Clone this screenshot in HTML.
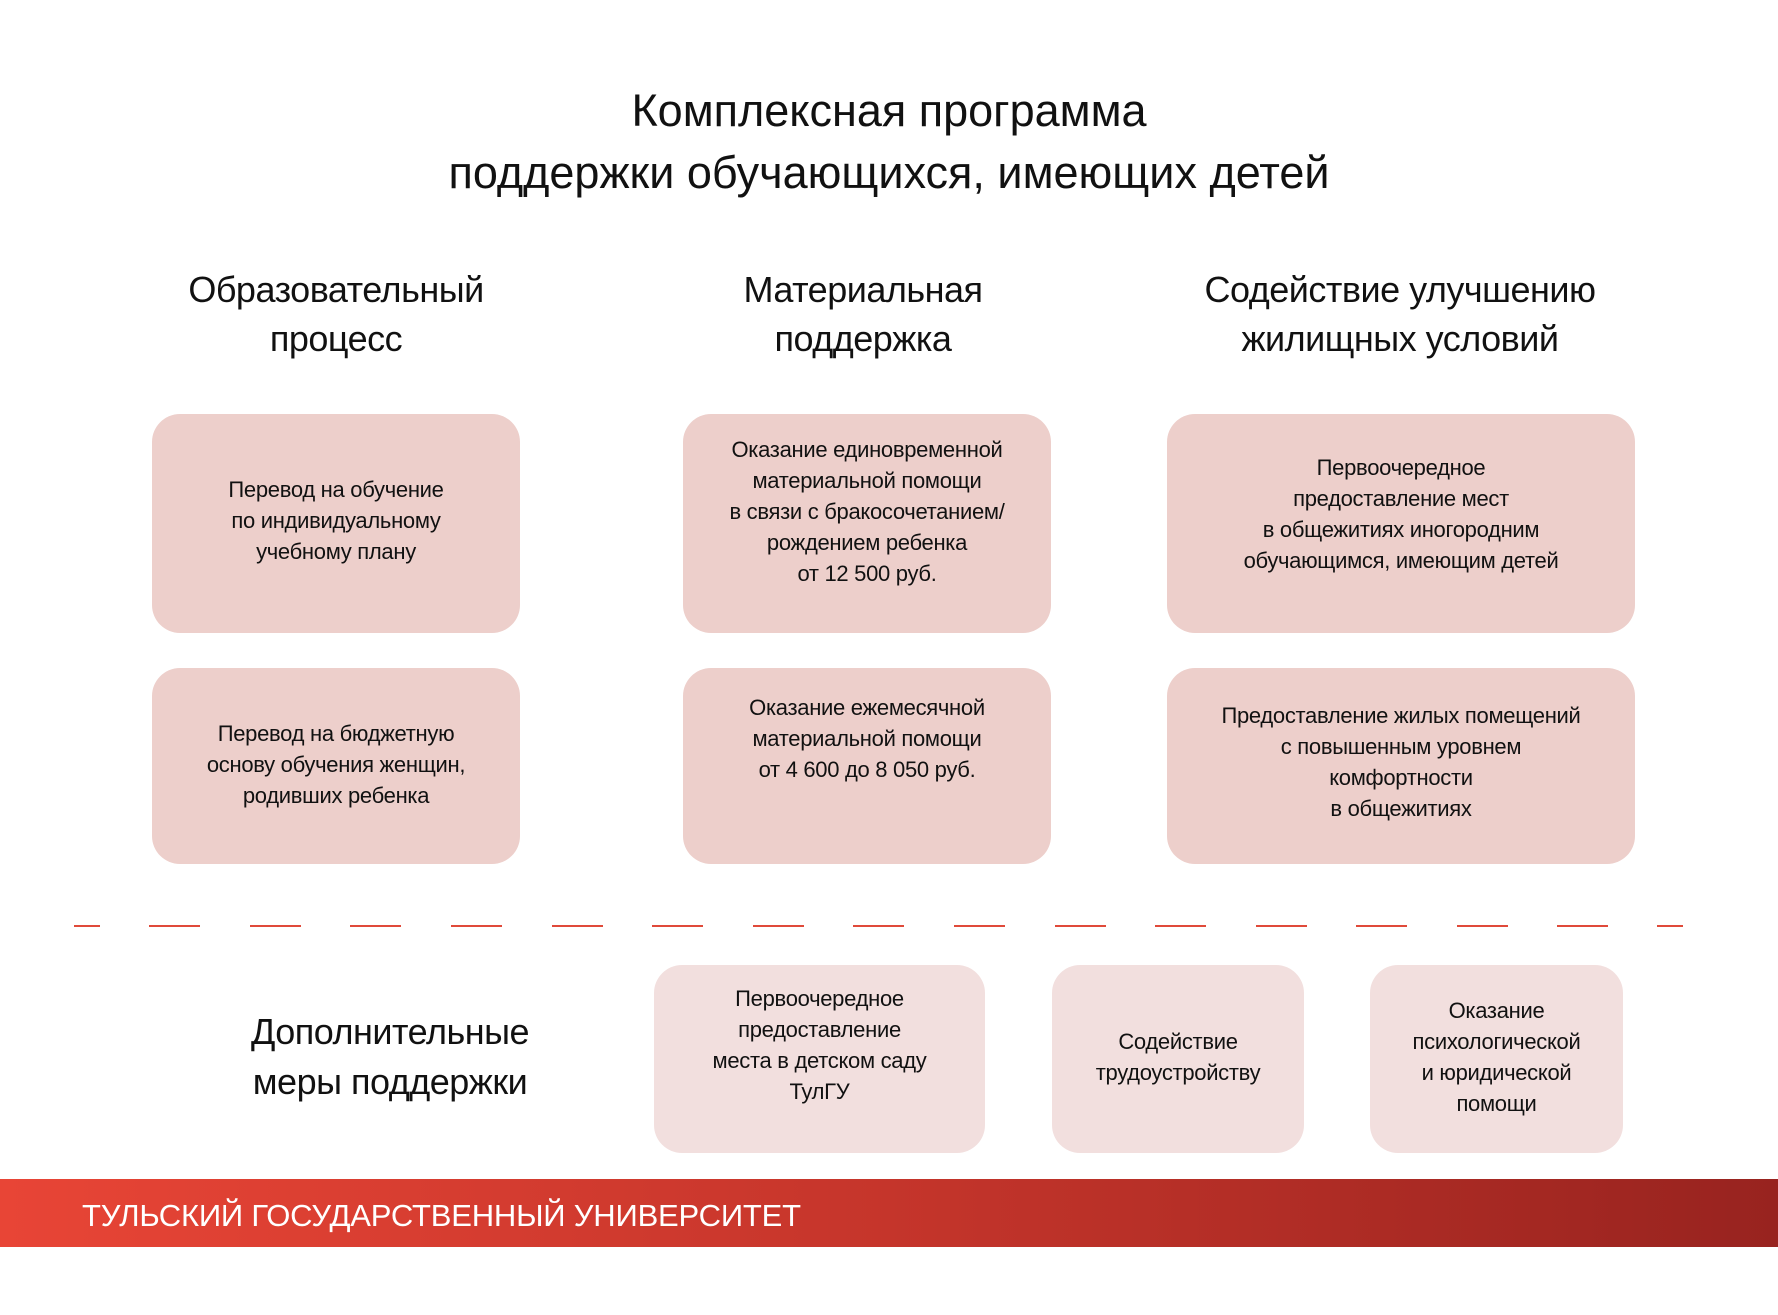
<!DOCTYPE html>
<html><head><meta charset="utf-8"><style>
body{margin:0;width:1778px;height:1315px;background:#fff;position:relative;overflow:hidden;font-family:"Liberation Sans","Noto Sans CJK SC",sans-serif;color:#111}
.t{position:absolute;text-align:center;font-weight:500}
.b{position:absolute;background:#edcfcb;border-radius:28px;display:flex;align-items:center;justify-content:center;text-align:center;font-size:22px;line-height:31px;box-sizing:border-box;padding:0 10px;letter-spacing:-0.3px}
.l{background:#f2dfde}
.d{position:absolute;top:925px;height:2px;background:#e04a3a}
</style></head><body>
<div class="t" style="left:0;width:1778px;top:80px;font-size:45px;line-height:62px">Комплексная программа<br>поддержки обучающихся, имеющих детей</div>
<div class="t" style="left:136px;width:400px;top:265px;font-size:36px;line-height:49px;letter-spacing:-0.5px">Образовательный<br>процесс</div>
<div class="t" style="left:663px;width:400px;top:265px;font-size:36px;line-height:49px;letter-spacing:-0.5px">Материальная<br>поддержка</div>
<div class="t" style="left:1150px;width:500px;top:265px;font-size:36px;line-height:49px;letter-spacing:-0.5px">Содействие улучшению<br>жилищных условий</div>
<div class="b" style="left:152px;top:414px;width:368px;height:219px;padding-bottom:6px">Перевод на обучение<br>по индивидуальному<br>учебному плану</div>
<div class="b" style="left:683px;top:414px;width:368px;height:219px;padding-bottom:24px">Оказание единовременной<br>материальной помощи<br>в связи с бракосочетанием/<br>рождением ребенка<br>от 12 500 руб.</div>
<div class="b" style="left:1167px;top:414px;width:468px;height:219px;padding-bottom:20px">Первоочередное<br>предоставление мест<br>в общежитиях иногородним<br>обучающимся, имеющим детей</div>
<div class="b" style="left:152px;top:668px;width:368px;height:196px;padding-bottom:4px">Перевод на бюджетную<br>основу обучения женщин,<br>родивших ребенка</div>
<div class="b" style="left:683px;top:668px;width:368px;height:196px;padding-bottom:56px">Оказание ежемесячной<br>материальной помощи<br>от 4 600 до 8 050 руб.</div>
<div class="b" style="left:1167px;top:668px;width:468px;height:196px;padding-bottom:8px">Предоставление жилых помещений<br>с повышенным уровнем<br>комфортности<br>в общежитиях</div>
<div class="d" style="left:74px;width:26px"></div>
<div class="d" style="left:149px;width:51px"></div>
<div class="d" style="left:250px;width:51px"></div>
<div class="d" style="left:350px;width:51px"></div>
<div class="d" style="left:451px;width:51px"></div>
<div class="d" style="left:552px;width:51px"></div>
<div class="d" style="left:652px;width:51px"></div>
<div class="d" style="left:753px;width:51px"></div>
<div class="d" style="left:853px;width:51px"></div>
<div class="d" style="left:954px;width:51px"></div>
<div class="d" style="left:1055px;width:51px"></div>
<div class="d" style="left:1155px;width:51px"></div>
<div class="d" style="left:1256px;width:51px"></div>
<div class="d" style="left:1356px;width:51px"></div>
<div class="d" style="left:1457px;width:51px"></div>
<div class="d" style="left:1557px;width:51px"></div>
<div class="d" style="left:1657px;width:26px"></div>
<div class="t" style="left:190px;width:400px;top:1007px;font-size:36px;line-height:50px;letter-spacing:-0.5px">Дополнительные<br>меры поддержки</div>
<div class="b l" style="left:654px;top:965px;width:331px;height:188px;padding-bottom:28px">Первоочередное<br>предоставление<br>места в детском саду<br>ТулГУ</div>
<div class="b l" style="left:1052px;top:965px;width:252px;height:188px;padding-bottom:4px">Содействие<br>трудоустройству</div>
<div class="b l" style="left:1370px;top:965px;width:253px;height:188px;padding-bottom:4px">Оказание<br>психологической<br>и юридической<br>помощи</div>
<div style="position:absolute;left:0;top:1179px;width:1778px;height:68px;background:linear-gradient(90deg,#e84536,#c5352b 50%,#98231f)"></div>
<div style="position:absolute;left:82px;top:1196px;color:#fff;font-size:31px;line-height:40px;font-weight:500;letter-spacing:-0.2px">ТУЛЬСКИЙ ГОСУДАРСТВЕННЫЙ УНИВЕРСИТЕТ</div>
</body></html>
